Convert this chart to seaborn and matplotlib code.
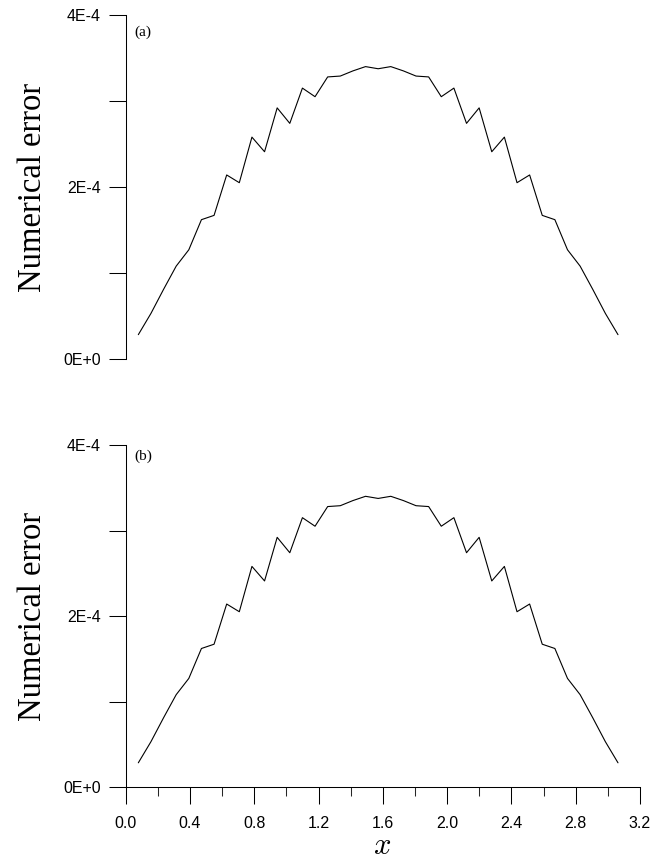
import numpy as np
import pandas as pd
import matplotlib
matplotlib.use("Agg")
import matplotlib.pyplot as plt
import seaborn as sns
from matplotlib.ticker import MultipleLocator

# === DATA ===
# grid points x_k = k*pi/40, k = 1..39
k_index = list(range(1, 40))
# numerical error in units of 1e-4, one half then the mirror image
err_half = [0.283, 0.53, 0.81, 1.08, 1.27, 1.62, 1.67, 2.14, 2.05, 2.58,
            2.41, 2.92, 2.74, 3.15, 3.05, 3.28, 3.29, 3.35, 3.40, 3.375]
err_a = err_half + err_half[-2::-1]
err_b = list(err_a)

y_ticks = [0, 1e-4, 2e-4, 3e-4, 4e-4]
y_ticklabels = ["0E+0", "", "2E-4", "", "4E-4"]
x_major = [0.0, 0.4, 0.8, 1.2, 1.6, 2.0, 2.4, 2.8, 3.2]
x_ticklabels = [f"{v:.1f}" for v in x_major]
panel_labels = ["(a)", "(b)"]

x_vals = [np.pi * k / 40 for k in k_index]
df_a = pd.DataFrame({"x": x_vals, "err": [v * 1e-4 for v in err_a]})
df_b = pd.DataFrame({"x": x_vals, "err": [v * 1e-4 for v in err_b]})

# === STYLE ===
sns.set_style("ticks")
plt.rcParams["font.family"] = ["Liberation Sans", "DejaVu Sans"]
plt.rcParams["mathtext.fontset"] = "cm"
plt.rcParams["text.color"] = "black"
plt.rcParams["axes.edgecolor"] = "black"

fig = plt.figure(figsize=(6.53, 8.61), dpi=100)
W, H = 653, 861
left, right = 125.7, 640.0
ax_a = fig.add_axes([left / W, 1 - 359 / H, (right - left) / W, 344 / H])
ax_b = fig.add_axes([left / W, 1 - 787 / H, (right - left) / W, 342 / H])

for ax, df, lab, lab_y in [(ax_a, df_a, panel_labels[0], 32), (ax_b, df_b, panel_labels[1], 456)]:
    sns.lineplot(data=df, x="x", y="err", ax=ax, color="black", linewidth=0.8)
    ax.set_xlim(0, 3.2)
    ax.set_ylim(0, 4e-4)
    ax.set_yticks(y_ticks)
    ax.set_yticklabels(y_ticklabels)
    ax.tick_params(axis="y", length=12.2, width=0.75, pad=5.5, labelsize=11.5, colors="black")
    ax.set_xlabel("")
    ax.set_ylabel("")
    for s in ["top", "right"]:
        ax.spines[s].set_visible(False)
    ax.spines["left"].set_linewidth(0.75)
    ax.spines["bottom"].set_linewidth(0.75)
    ax.set_facecolor("white")
    # panel tag
    fig.text(134 / W, 1 - lab_y / H, lab, family=["Liberation Serif"], fontsize=11,
             ha="left", va="center", color="black")
    # y label
    ax_mid = (ax.get_position().y0 + ax.get_position().y1) / 2
    fig.text(33 / W, ax_mid, "Numerical error", family=["Liberation Serif"], fontsize=23.5,
             rotation=90, ha="center", va="center", color="black")

# top panel: no x axis
ax_a.spines["bottom"].set_visible(False)
ax_a.set_xticks([])

# bottom panel x axis
ax_b.set_xticks(x_major)
ax_b.set_xticklabels(x_ticklabels)
ax_b.xaxis.set_minor_locator(MultipleLocator(0.2))
ax_b.tick_params(axis="x", which="major", length=12.2, width=0.75, pad=9, labelsize=11.5, colors="black")
ax_b.tick_params(axis="x", which="minor", length=6.5, width=0.75)
fig.text(382 / W, 1 - 854 / H, "$x$", fontsize=22, ha="center", va="baseline", color="black")

fig.savefig("out.png", dpi=100, facecolor="white")
